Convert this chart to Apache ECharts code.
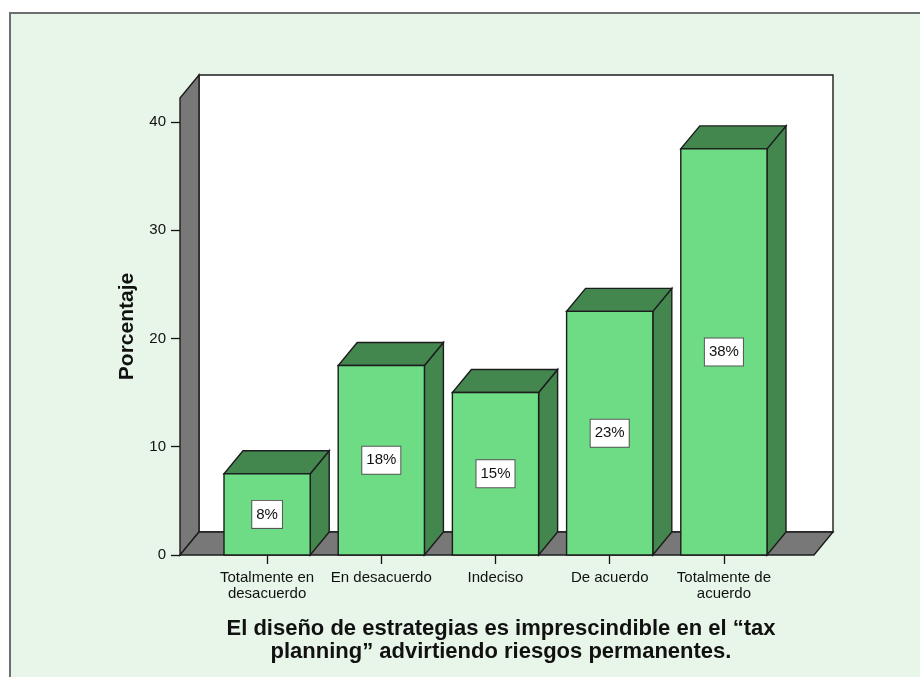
<!DOCTYPE html>
<html>
<head>
<meta charset="utf-8">
<script src="https://cdn.jsdelivr.net/npm/echarts@6/dist/echarts.min.js"></script>
<style>
  html, body { margin: 0; padding: 0; background: #ffffff; }
  #chart { width: 920px; height: 677px; }
</style>
</head>
<body>
<div id="chart"></div>
<script>
// Response categories and the share of answers for each one (%)
const categories = ['Totalmente en\ndesacuerdo', 'En desacuerdo', 'Indeciso', 'De acuerdo', 'Totalmente de\nacuerdo'];
const percentages = [7.5, 17.5, 15, 22.5, 37.5];
const yTicks = [0, 10, 20, 30, 40];
const yAxisName = 'Porcentaje';
const chartTitle = 'El diseño de estrategias es imprescindible en el “tax\nplanning” advirtiendo riesgos permanentes.';

// 3D look: depth offset of the box and bars
const DEPTH_X = 19;
const DEPTH_Y = -23;
const WALL_PAD_LEFT = 30;
const WALL_PAD_RIGHT = 33;
const BAR_RATIO = 0.755;

const FONT = '"Liberation Sans", Arial, Helvetica, sans-serif';
const FRONT = '#6edc84';
const SIDE = '#43874f';
const WALL = '#787878';
const EDGE = '#1c1c1c';

const chart = echarts.init(document.getElementById('chart'), null, { renderer: 'canvas' });

// Left wall, back wall and floor of the 3D box
function renderBox(params, api) {
  const cs = params.coordSys;
  const base = api.coord([0, 0])[1];
  const x0 = cs.x - WALL_PAD_LEFT;
  const x1 = cs.x + cs.width + WALL_PAD_RIGHT;
  const yTop = cs.y;
  const dx = DEPTH_X, dy = DEPTH_Y;
  const edge = { stroke: EDGE, lineWidth: 1.4 };
  return {
    type: 'group',
    children: [
      {
        type: 'rect',
        shape: { x: x0 + dx, y: yTop + dy, width: x1 - x0, height: base - yTop },
        style: Object.assign({ fill: '#ffffff' }, edge)
      },
      {
        type: 'polygon',
        shape: { points: [[x0, base], [x0, yTop], [x0 + dx, yTop + dy], [x0 + dx, base + dy]] },
        style: Object.assign({ fill: WALL }, edge)
      },
      {
        type: 'polygon',
        shape: { points: [[x0, base], [x1, base], [x1 + dx, base + dy], [x0 + dx, base + dy]] },
        style: Object.assign({ fill: WALL }, edge)
      }
    ]
  };
}

// One 3D bar: front face, top, right side and a boxed percentage label
function renderBar(params, api) {
  const idx = api.value(0);
  const val = api.value(1);
  const top = api.coord([idx, val]);
  const base = api.coord([idx, 0]);
  const w = api.size([1, 0])[0] * BAR_RATIO;
  const xl = top[0] - w / 2;
  const xr = top[0] + w / 2;
  const yt = top[1];
  const yb = base[1];
  const dx = DEPTH_X, dy = DEPTH_Y;
  const edge = { stroke: EDGE, lineWidth: 1.4 };
  return {
    type: 'group',
    children: [
      {
        type: 'polygon',
        shape: { points: [[xr, yb], [xr, yt], [xr + dx, yt + dy], [xr + dx, yb + dy]] },
        style: Object.assign({ fill: SIDE }, edge)
      },
      {
        type: 'polygon',
        shape: { points: [[xl, yt], [xr, yt], [xr + dx, yt + dy], [xl + dx, yt + dy]] },
        style: Object.assign({ fill: SIDE }, edge)
      },
      {
        type: 'rect',
        shape: { x: xl, y: yt, width: w, height: yb - yt },
        style: Object.assign({ fill: FRONT }, edge)
      },
      {
        type: 'text',
        x: top[0],
        y: (yt + yb) / 2,
        style: {
          text: Math.round(val) + '%',
          fill: '#111',
          font: '15px ' + FONT,
          align: 'center',
          verticalAlign: 'middle',
          lineHeight: 17,
          backgroundColor: '#ffffff',
          borderColor: '#555',
          borderWidth: 1,
          padding: [5, 4, 5, 4],
          boxShadowColor: 'rgba(0,0,0,0.45)',
          boxShadowOffsetX: 1,
          boxShadowOffsetY: 1,
          boxShadowBlur: 1
        }
      }
    ]
  };
}

const option = {
  backgroundColor: '#ffffff',
  animation: false,
  textStyle: { fontFamily: FONT },
  graphic: [
    {
      type: 'rect',
      z: -10,
      shape: { x: 10, y: 13, width: 940, height: 700 },
      style: { fill: '#e8f6e9', stroke: '#6e6e6e', lineWidth: 2 }
    }
  ],
  title: {
    text: chartTitle,
    left: 496,
    top: 612,
    textAlign: 'center',
    textStyle: {
      fontFamily: FONT,
      fontSize: 22,
      fontWeight: 'bold',
      color: '#111',
      lineHeight: 23
    }
  },
  grid: {
    left: 210,
    right: 139,
    top: 98,
    bottom: 122,
    outerBoundsMode: 'none'
  },
  xAxis: {
    type: 'category',
    data: categories,
    axisLine: { show: false },
    axisTick: { show: true, alignWithLabel: true, length: 9, lineStyle: { color: '#111', width: 1.3 } },
    axisLabel: { interval: 0, fontSize: 15, lineHeight: 16, margin: 15, color: '#111', fontFamily: FONT },
    splitLine: { show: false }
  },
  yAxis: {
    type: 'value',
    min: 0,
    max: 42.2,
    interval: 10,
    offset: WALL_PAD_LEFT,
    name: yAxisName,
    nameLocation: 'middle',
    nameGap: 42,
    nameTextStyle: { fontSize: 21, fontWeight: 'bold', color: '#111', fontFamily: FONT },
    axisLine: { show: false },
    axisTick: { show: true, length: 9, customValues: yTicks, lineStyle: { color: '#111', width: 1.3 } },
    axisLabel: { fontSize: 15, color: '#111', margin: 14, customValues: yTicks, fontFamily: FONT },
    splitLine: { show: false }
  },
  series: [
    {
      type: 'custom',
      name: 'box',
      renderItem: renderBox,
      data: [[0, 0]],
      silent: true,
      z: 1
    },
    {
      type: 'custom',
      name: yAxisName,
      renderItem: renderBar,
      encode: { x: 0, y: 1 },
      data: percentages.map((v, i) => [i, v]),
      z: 2
    }
  ]
};

chart.setOption(option);
</script>
</body>
</html>
